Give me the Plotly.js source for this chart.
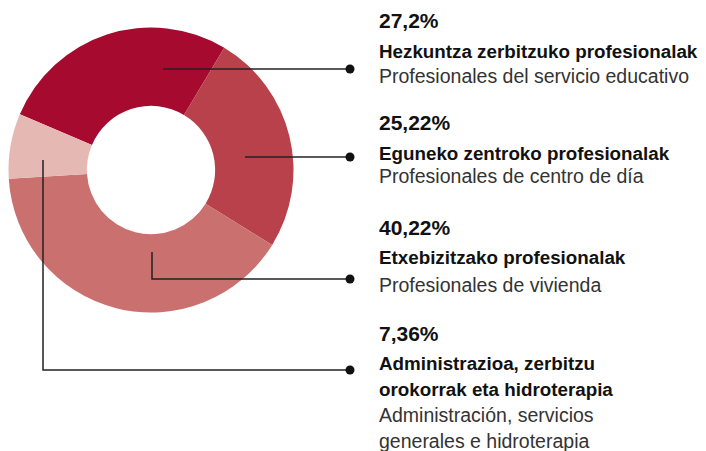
<!DOCTYPE html>
<html>
<head>
<meta charset="utf-8">
<script src="https://cdn.plot.ly/plotly-3.0.1.min.js"></script>
<style>html,body{margin:0;padding:0;background:#fff}#chart{width:706px;height:451px}</style>
</head>
<body>
<div id="chart"></div>
<script>
// Data
var percentLabels = ["27,2%", "25,22%", "40,22%", "7,36%"];
var values = [27.2, 25.22, 40.22, 7.36];
var basqueLabels = [
  ["Hezkuntza zerbitzuko profesionalak"],
  ["Eguneko zentroko profesionalak"],
  ["Etxebizitzako profesionalak"],
  ["Administrazioa, zerbitzu", "orokorrak eta hidroterapia"]
];
var spanishLabels = [
  ["Profesionales del servicio educativo"],
  ["Profesionales de centro de día"],
  ["Profesionales de vivienda"],
  ["Administración, servicios", "generales e hidroterapia"]
];
var colors = ["#a60b2f", "#b9414b", "#ca706f", "#e6b8b4"];

var W = 706, H = 451;
function px(x){ return x / W; }
function py(y){ return 1 - y / H; }

var trace = {
  type: "pie",
  values: values,
  labels: basqueLabels.map(function(l){ return l.join(" "); }),
  sort: false,
  direction: "clockwise",
  rotation: 293,
  hole: 0.45,
  textinfo: "none",
  hoverinfo: "none",
  marker: {colors: colors, line: {width: 0}},
  domain: {x: [px(8.5), px(293.5)], y: [py(312.5), py(27.5)]},
  showlegend: false
};

// leader lines (pixel paths) and dots
var leaders = [
  [[163,69],[350,69]],
  [[245,157],[350,157]],
  [[152,252],[152,279],[350,279]],
  [[43,160],[43,370],[350,370]]
];
var shapes = [];
leaders.forEach(function(pts){
  var d = "M" + pts.map(function(p){ return px(p[0]) + "," + py(p[1]); }).join(" L");
  shapes.push({type: "path", xref: "paper", yref: "paper", path: d, line: {color: "#222", width: 1.5}});
  var e = pts[pts.length-1];
  var r = 4.5;
  shapes.push({type: "circle", xref: "paper", yref: "paper",
    x0: px(e[0]-r), x1: px(e[0]+r), y0: py(e[1]+r), y1: py(e[1]-r),
    fillcolor: "#111", line: {width: 0}});
});

// text blocks
var textX = px(377);
var pctY = [21, 123, 227, 333];
var boldY = [[52], [153], [257], [363, 389]];
var regY = [[76], [176], [285], [415, 441]];
var annotations = [];
function ann(t, y, bold, size, color){
  annotations.push({xref: "paper", yref: "paper", x: textX, y: py(y), xanchor: "left", yanchor: "middle",
    text: bold ? "<b>" + t + "</b>" : t, showarrow: false,
    font: {family: "Liberation Sans, Arial, sans-serif", size: size, color: color}});
}
for (var i = 0; i < values.length; i++) {
  ann(percentLabels[i], pctY[i], true, 21, "#111");
  basqueLabels[i].forEach(function(t, j){ ann(t, boldY[i][j], true, 18.8, "#111"); });
  spanishLabels[i].forEach(function(t, j){ ann(t, regY[i][j], false, 19.5, "#333"); });
}

var layout = {
  width: W, height: H,
  margin: {l: 0, r: 0, t: 0, b: 0},
  paper_bgcolor: "#fff",
  plot_bgcolor: "#fff",
  showlegend: false,
  shapes: shapes,
  annotations: annotations
};
Plotly.newPlot("chart", [trace], layout, {displayModeBar: false, staticPlot: true});
</script>
</body>
</html>
